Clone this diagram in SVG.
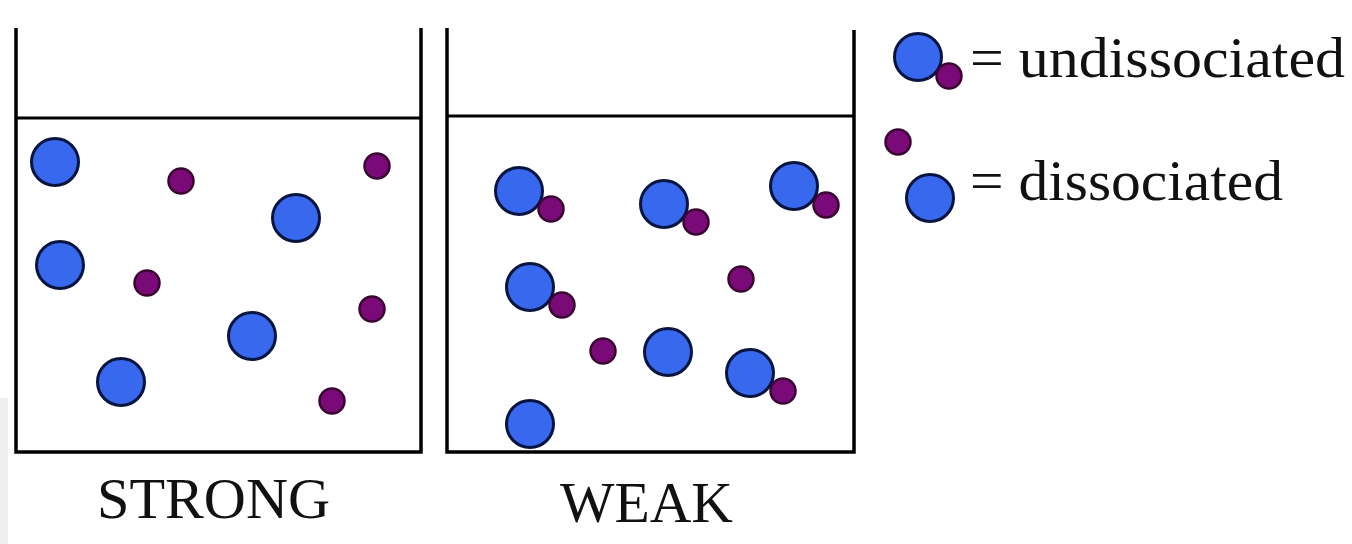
<svg xmlns="http://www.w3.org/2000/svg" width="1352" height="544" viewBox="0 0 1352 544">
<defs>
<style>
.wall{fill:none;stroke:#000;stroke-width:3.5;stroke-linecap:butt}
.water{stroke:#000;stroke-width:3}
.big{fill:#3868ee;stroke:#061440;stroke-width:3}
.small{fill:#7a0a78;stroke:#3a0530;stroke-width:2.5}
.lbl{font-family:"Liberation Serif","Times New Roman",serif;font-size:56px;fill:#111}
</style>
</defs>
<rect width="1352" height="544" fill="#fff"/>
<rect x="0" y="398" width="8" height="146" fill="#eeeeee"/>
<g id="beaker-strong">
<path class="wall" d="M16,28 V452 H421 V28"/>
<line class="water" x1="16" y1="118" x2="421" y2="118"/>
<circle class="big" cx="55" cy="162" r="23.5"/>
<circle class="big" cx="296" cy="218" r="23.5"/>
<circle class="big" cx="60" cy="265" r="23.5"/>
<circle class="big" cx="252" cy="336" r="23.5"/>
<circle class="big" cx="121" cy="382" r="23.5"/>
<circle class="small" cx="181" cy="181" r="12.5"/>
<circle class="small" cx="377" cy="166" r="12.5"/>
<circle class="small" cx="147" cy="283" r="12.5"/>
<circle class="small" cx="372" cy="309" r="12.5"/>
<circle class="small" cx="332" cy="401" r="12.5"/>
</g>
<g id="beaker-weak">
<path class="wall" d="M447,28 V452 H854 V30"/>
<line class="water" x1="447" y1="116" x2="854" y2="116"/>
<circle class="big" cx="519" cy="191" r="23.5"/>
<circle class="small" cx="551" cy="209" r="12.5"/>
<circle class="big" cx="664" cy="204" r="23.5"/>
<circle class="small" cx="696" cy="222" r="12.5"/>
<circle class="big" cx="794" cy="186" r="23.5"/>
<circle class="small" cx="826" cy="205" r="12.5"/>
<circle class="big" cx="530" cy="287" r="23.5"/>
<circle class="small" cx="562" cy="305" r="12.5"/>
<circle class="small" cx="741" cy="279" r="12.5"/>
<circle class="small" cx="603" cy="351" r="12.5"/>
<circle class="big" cx="668" cy="352" r="23.5"/>
<circle class="big" cx="750" cy="373" r="23.5"/>
<circle class="small" cx="783" cy="391" r="12.5"/>
<circle class="big" cx="530" cy="424" r="23.5"/>
</g>
<g id="legend-undissociated">
<circle class="big" cx="918" cy="57" r="23.5"/>
<circle class="small" cx="949" cy="76" r="12.5"/>
<text class="lbl" x="970" y="77" textLength="375" lengthAdjust="spacingAndGlyphs">= undissociated</text>
</g>
<g id="legend-dissociated">
<circle class="small" cx="898" cy="142" r="12.5"/>
<circle class="big" cx="930" cy="198" r="23.5"/>
<text class="lbl" x="970" y="200" textLength="313" lengthAdjust="spacingAndGlyphs">= dissociated</text>
</g>
<g id="labels">
<text class="lbl" x="97" y="518" textLength="233" lengthAdjust="spacingAndGlyphs">STRONG</text>
<text class="lbl" x="560" y="522" textLength="173" lengthAdjust="spacingAndGlyphs">WEAK</text>
</g>
</svg>
